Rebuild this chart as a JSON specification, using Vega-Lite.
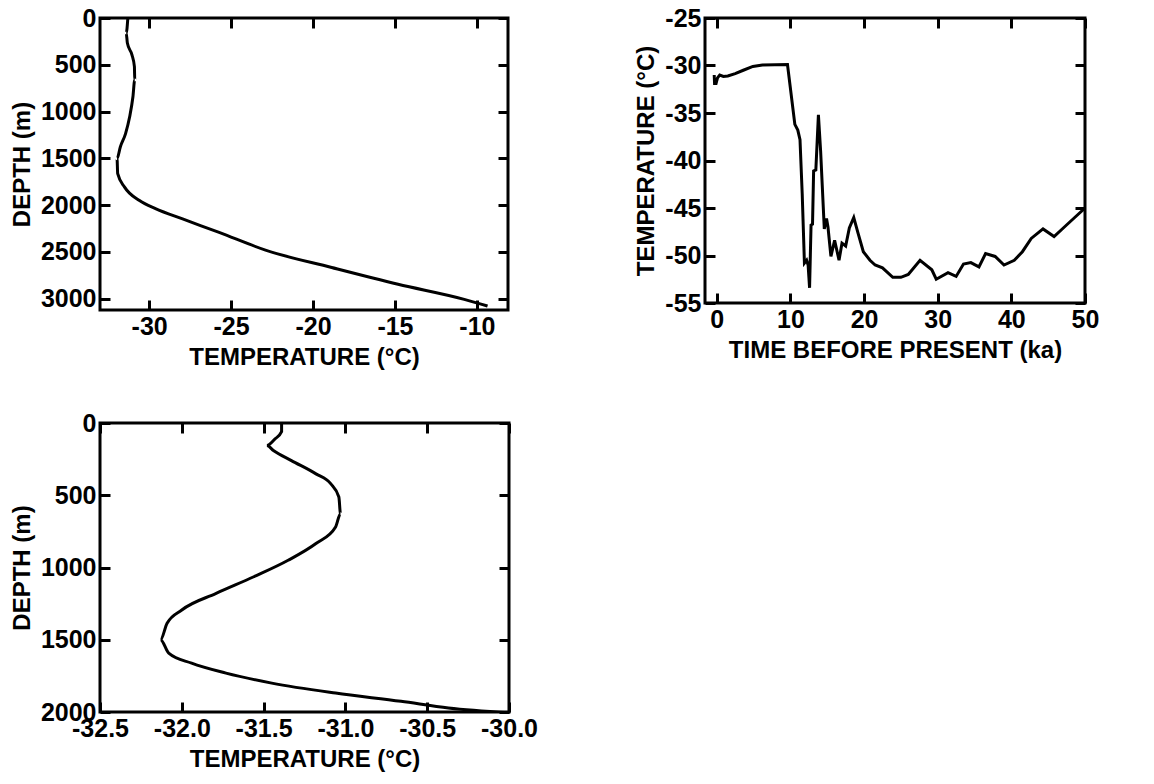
{
  "$schema": "https://vega.github.io/schema/vega-lite/v6.json",
  "background": "white",
  "padding": {"left": 8, "top": 4, "right": 0, "bottom": 0},
  "datasets": {
    "profile": [
      {"temp": -31.3, "depth": 0}, {"temp": -31.4, "depth": 160}, {"temp": -31.33, "depth": 268},
      {"temp": -31.05, "depth": 394}, {"temp": -30.9, "depth": 519}, {"temp": -30.88, "depth": 662},
      {"temp": -30.99, "depth": 841}, {"temp": -31.19, "depth": 1056}, {"temp": -31.44, "depth": 1235},
      {"temp": -31.76, "depth": 1378}, {"temp": -31.96, "depth": 1503}, {"temp": -31.92, "depth": 1664},
      {"temp": -31.5, "depth": 1807}, {"temp": -30.59, "depth": 1951}, {"temp": -29.58, "depth": 2040},
      {"temp": -27.96, "depth": 2147}, {"temp": -25.73, "depth": 2291}, {"temp": -22.9, "depth": 2480},
      {"temp": -18.86, "depth": 2666}, {"temp": -14.81, "depth": 2845}, {"temp": -10.77, "depth": 3006},
      {"temp": -9.35, "depth": 3078}
    ],
    "history": [
      {"time": -0.35, "temp": -31.0}, {"time": -0.3, "temp": -31.9}, {"time": -0.1, "temp": -31.9},
      {"time": 0.1, "temp": -31.3}, {"time": 0.4, "temp": -31.0}, {"time": 0.9, "temp": -31.15},
      {"time": 1.5, "temp": -31.1}, {"time": 2.5, "temp": -30.85}, {"time": 3.6, "temp": -30.5},
      {"time": 4.9, "temp": -30.1}, {"time": 6.2, "temp": -29.95}, {"time": 9.6, "temp": -29.9},
      {"time": 10.6, "temp": -36.2}, {"time": 11.0, "temp": -36.8}, {"time": 11.3, "temp": -37.8},
      {"time": 11.6, "temp": -43.5}, {"time": 11.9, "temp": -50.8}, {"time": 12.2, "temp": -50.5},
      {"time": 12.4, "temp": -51.0}, {"time": 12.6, "temp": -53.4}, {"time": 12.8, "temp": -46.8},
      {"time": 13.0, "temp": -46.7}, {"time": 13.15, "temp": -41.1}, {"time": 13.45, "temp": -41.0},
      {"time": 13.8, "temp": -35.2}, {"time": 14.1, "temp": -39.0}, {"time": 14.6, "temp": -47.2},
      {"time": 14.9, "temp": -46.1}, {"time": 15.1, "temp": -47.0}, {"time": 15.5, "temp": -50.1},
      {"time": 16.0, "temp": -48.4}, {"time": 16.6, "temp": -50.5}, {"time": 17.0, "temp": -48.7},
      {"time": 17.5, "temp": -49.0}, {"time": 18.0, "temp": -47.1}, {"time": 18.6, "temp": -46.0},
      {"time": 19.2, "temp": -47.7}, {"time": 19.9, "temp": -49.6}, {"time": 20.8, "temp": -50.5},
      {"time": 21.5, "temp": -51.0}, {"time": 22.5, "temp": -51.3}, {"time": 23.9, "temp": -52.3},
      {"time": 25.0, "temp": -52.3}, {"time": 26.0, "temp": -52.0}, {"time": 27.6, "temp": -50.5},
      {"time": 29.2, "temp": -51.5}, {"time": 29.8, "temp": -52.5}, {"time": 31.4, "temp": -51.8},
      {"time": 32.5, "temp": -52.2}, {"time": 33.5, "temp": -50.9}, {"time": 34.5, "temp": -50.75},
      {"time": 35.6, "temp": -51.2}, {"time": 36.5, "temp": -49.8}, {"time": 37.8, "temp": -50.1},
      {"time": 39.0, "temp": -51.0}, {"time": 40.4, "temp": -50.5}, {"time": 41.5, "temp": -49.6},
      {"time": 42.7, "temp": -48.2}, {"time": 44.3, "temp": -47.2}, {"time": 45.8, "temp": -48.0},
      {"time": 47.2, "temp": -47.0}, {"time": 48.6, "temp": -46.0}, {"time": 50.0, "temp": -45.0}
    ],
    "upper": [
      {"temp": -31.39, "depth": 0}, {"temp": -31.39, "depth": 60}, {"temp": -31.43, "depth": 110},
      {"temp": -31.48, "depth": 156}, {"temp": -31.44, "depth": 190}, {"temp": -31.33, "depth": 260},
      {"temp": -31.18, "depth": 352}, {"temp": -31.09, "depth": 420}, {"temp": -31.04, "depth": 512},
      {"temp": -31.03, "depth": 628}, {"temp": -31.06, "depth": 720}, {"temp": -31.18, "depth": 834},
      {"temp": -31.35, "depth": 950}, {"temp": -31.56, "depth": 1064}, {"temp": -31.79, "depth": 1179},
      {"temp": -32.0, "depth": 1294}, {"temp": -32.09, "depth": 1386}, {"temp": -32.13, "depth": 1500},
      {"temp": -32.08, "depth": 1593}, {"temp": -31.94, "depth": 1662}, {"temp": -31.73, "depth": 1731},
      {"temp": -31.45, "depth": 1800}, {"temp": -31.06, "depth": 1869}, {"temp": -30.66, "depth": 1926},
      {"temp": -30.37, "depth": 1972}, {"temp": -30.0, "depth": 2005}
    ]
  },
  "vconcat": [
    {
      "hconcat": [
        {
          "width": 408, "height": 292,
          "data": {"name": "profile"},
          "resolve": {"axis": {"x": "independent", "y": "independent"}},
          "layer": [
            {
              "mark": {"type": "line", "interpolate": "monotone", "clip": true},
              "encoding": {
                "x": {"field": "temp", "type": "quantitative", "scale": {"domain": [-33, -8.1], "nice": false, "zero": false},
                      "axis": {"orient": "bottom", "values": [-30, -25, -20, -15, -10], "labelExpr": "replace(format(datum.value, 'd'), '\u2212', '-')", "title": "TEMPERATURE (°C)"}},
                "y": {"field": "depth", "type": "quantitative", "sort": null, "scale": {"domain": [0, 3120], "reverse": true, "nice": false, "zero": false},
                      "axis": {"orient": "left", "values": [0, 500, 1000, 1500, 2000, 2500, 3000], "labelExpr": "format(datum.value, 'd')", "title": "DEPTH (m)"}},
                "order": {"field": "depth", "type": "quantitative"}
              }
            },
            {
              "mark": {"type": "line", "strokeOpacity": 0},
              "encoding": {
                "x": {"field": "temp", "type": "quantitative", "axis": {"orient": "top", "values": [-30, -25, -20, -15, -10], "labels": false, "title": null}},
                "y": {"field": "depth", "type": "quantitative", "axis": {"orient": "right", "values": [0, 500, 1000, 1500, 2000, 2500, 3000], "labels": false, "title": null}},
                "order": {"field": "depth", "type": "quantitative"}
              }
            }
          ]
        },
        {
          "width": 380, "height": 285,
          "data": {"name": "history"},
          "resolve": {"axis": {"x": "independent", "y": "independent"}},
          "layer": [
            {
              "mark": {"type": "line", "clip": true},
              "encoding": {
                "x": {"field": "time", "type": "quantitative", "scale": {"domain": [-1.6, 50], "nice": false, "zero": false},
                      "axis": {"orient": "bottom", "values": [0, 10, 20, 30, 40, 50], "labelExpr": "format(datum.value, 'd')", "title": "TIME BEFORE PRESENT (ka)"}},
                "y": {"field": "temp", "type": "quantitative", "scale": {"domain": [-55, -25], "nice": false, "zero": false},
                      "axis": {"orient": "left", "values": [-55, -50, -45, -40, -35, -30, -25], "labelExpr": "replace(format(datum.value, 'd'), '\u2212', '-')", "title": "TEMPERATURE (°C)"}}
              }
            },
            {
              "mark": {"type": "line", "strokeOpacity": 0},
              "encoding": {
                "x": {"field": "time", "type": "quantitative", "axis": {"orient": "top", "values": [0, 10, 20, 30, 40, 50], "labels": false, "title": null}},
                "y": {"field": "temp", "type": "quantitative", "axis": {"orient": "right", "values": [-55, -50, -45, -40, -35, -30, -25], "labels": false, "title": null}}
              }
            }
          ]
        }
      ],
      "spacing": 122
    },
    {
      "width": 409, "height": 289,
      "data": {"name": "upper"},
      "resolve": {"axis": {"x": "independent", "y": "independent"}},
      "layer": [
        {
          "mark": {"type": "line", "interpolate": "monotone", "clip": true},
          "encoding": {
            "x": {"field": "temp", "type": "quantitative", "scale": {"domain": [-32.5, -30], "nice": false, "zero": false},
                  "axis": {"orient": "bottom", "values": [-32.5, -32, -31.5, -31, -30.5, -30], "labelExpr": "replace(format(datum.value, '.1f'), '\u2212', '-')", "title": "TEMPERATURE (°C)"}},
            "y": {"field": "depth", "type": "quantitative", "scale": {"domain": [0, 2000], "reverse": true, "nice": false, "zero": false},
                  "axis": {"orient": "left", "values": [0, 500, 1000, 1500, 2000], "labelExpr": "format(datum.value, 'd')", "title": "DEPTH (m)"}},
            "order": {"field": "depth", "type": "quantitative"}
          }
        },
        {
          "mark": {"type": "line", "strokeOpacity": 0},
          "encoding": {
            "x": {"field": "temp", "type": "quantitative", "axis": {"orient": "top", "values": [-32.5, -32, -31.5, -31, -30.5, -30], "labels": false, "title": null}},
            "y": {"field": "depth", "type": "quantitative", "axis": {"orient": "right", "values": [0, 500, 1000, 1500, 2000], "labels": false, "title": null}},
            "order": {"field": "depth", "type": "quantitative"}
          }
        }
      ]
    }
  ],
  "spacing": 38,
  "config": {
    "view": {"stroke": "black", "strokeWidth": 3},
    "axis": {
      "domain": false, "grid": false, "ticks": true,
      "tickColor": "black", "tickWidth": 3, "tickSize": -10,
      "labelFont": "Liberation Sans", "labelFontSize": 25, "labelFontWeight": "bold", "labelColor": "black",
      "labelPadding": 14, "labelFlush": false, "labelOverlap": false,
      "titleFont": "Liberation Sans", "titleFontSize": 24, "titleFontWeight": "bold", "titleColor": "black",
      "titlePadding": 6
    },
    "line": {"color": "black", "strokeWidth": 3}
  }
}
